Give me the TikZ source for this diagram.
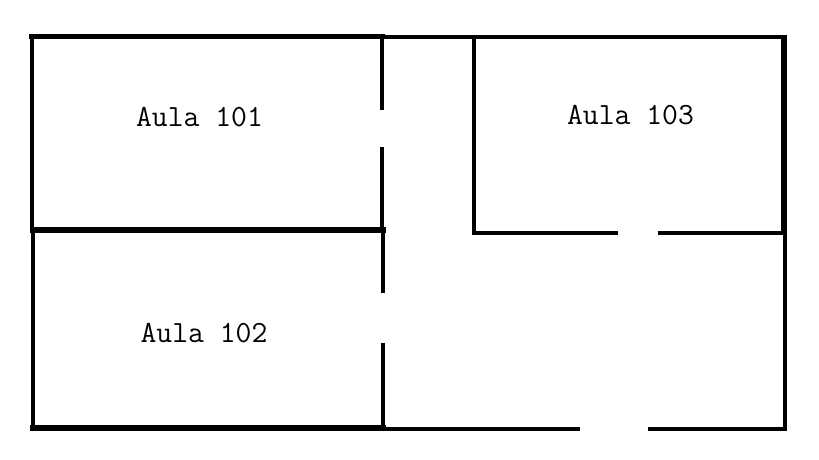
\documentclass[tikz,border=0pt]{standalone}
\tikzset{
  wall/.style={line width=4.5pt, black, line cap=rect},
  heavywall/.style={line width=5.5pt, black, line cap=rect},
  thinwall/.style={line width=4pt, black},
  room/.style={font=\ttfamily\fontsize{30.8}{32}\selectfont, anchor=base, inner sep=0pt}
}
\begin{document}
\begin{tikzpicture}[x=1pt, y=-1pt]
\useasboundingbox (0,0) rectangle (819,460);

\node[room] (A) at (199.5,126) {Aula 101};
\node[room] (B) at (204,342) {Aula 102};
\node[room] (C) at (630.5,124) {Aula 103};

% left rooms
\draw[heavywall] (32,36.5) -- (382,36.5);
\draw[wall] (32,36.5) -- (32,230);
\draw[heavywall] (33,230) -- (383,230);
\draw[wall] (33,230) -- (33,428);
\draw[heavywall] (33,428) -- (383,428);

% doors of the left rooms
\draw[thinwall] (381.5,37) -- (381.5,110);
\draw[thinwall] (381.5,147) -- (381.5,230);
\draw[thinwall] (383,230) -- (383,293);
\draw[thinwall] (383,343) -- (383,428);

% outer wall on the right
\draw[thinwall] (382,37) -- (786.5,37);
\draw[line width=6pt] (783.5,35) -- (783.5,233);
\draw[thinwall] (784.7,233) -- (784.7,430.5);
\draw[thinwall] (383,428.7) -- (580,428.7);
\draw[thinwall] (648,428.7) -- (786.5,428.7);

% right room
\draw[thinwall] (473.7,37) -- (473.7,235);
\draw[thinwall] (472,233) -- (617.7,233);
\draw[thinwall] (657.7,233) -- (786,233);
\end{tikzpicture}
\end{document}
